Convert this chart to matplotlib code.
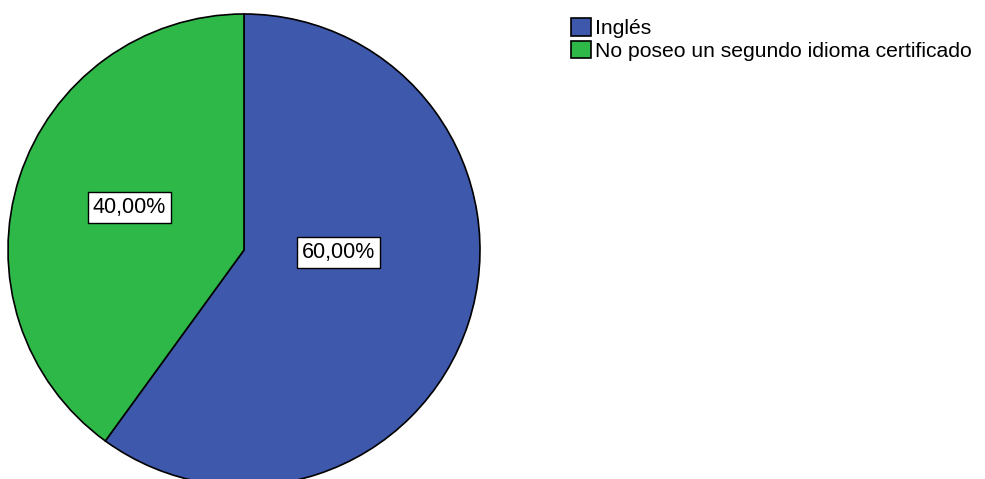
import matplotlib
matplotlib.use('Agg')
import matplotlib.pyplot as plt

# --- Data ---
categories = ['Inglés', 'No poseo un segundo idioma certificado']
percentages = [60.0, 40.0]
colors = ['#3E58AC', '#2EB848']

plt.rcParams['font.family'] = ['Liberation Sans', 'DejaVu Sans']

W, H = 985, 479
fig = plt.figure(figsize=(W / 100, H / 100), dpi=100, facecolor='white')

# pie centre and radius in pixels (top-left origin)
cx, cy, r = 244, 250, 236
ax = fig.add_axes([(cx - r) / W, (H - cy - r) / H, 2 * r / W, 2 * r / H])

wedges, _ = ax.pie(percentages, colors=colors, startangle=90, counterclock=False,
                   radius=1, wedgeprops=dict(edgecolor='black', linewidth=1.2))
# pie() resets the limits, so set them afterwards
ax.set_xlim(-1, 1)
ax.set_ylim(-1, 1)
ax.set_aspect('equal')
ax.axis('off')

# percentage labels with white boxes
label_pos = [(0.40, -0.01), (-0.485, 0.18)]
for (x, y), p in zip(label_pos, percentages):
    txt = f'{p:.2f}'.replace('.', ',') + '%'
    ax.text(x, y, txt, ha='center', va='center', fontsize=15.5,
            bbox=dict(boxstyle='square,pad=0.22', facecolor='white',
                      edgecolor='black', linewidth=1.0))

fig.legend(wedges, categories, loc='upper left',
           bbox_to_anchor=(571 / W, 1 - 18 / H), frameon=False,
           fontsize=15.2, handlelength=0.95, handleheight=0.9,
           handletextpad=0.2, labelspacing=0.12, borderaxespad=0,
           borderpad=0)

fig.savefig('out.png', dpi=100, facecolor='white')
